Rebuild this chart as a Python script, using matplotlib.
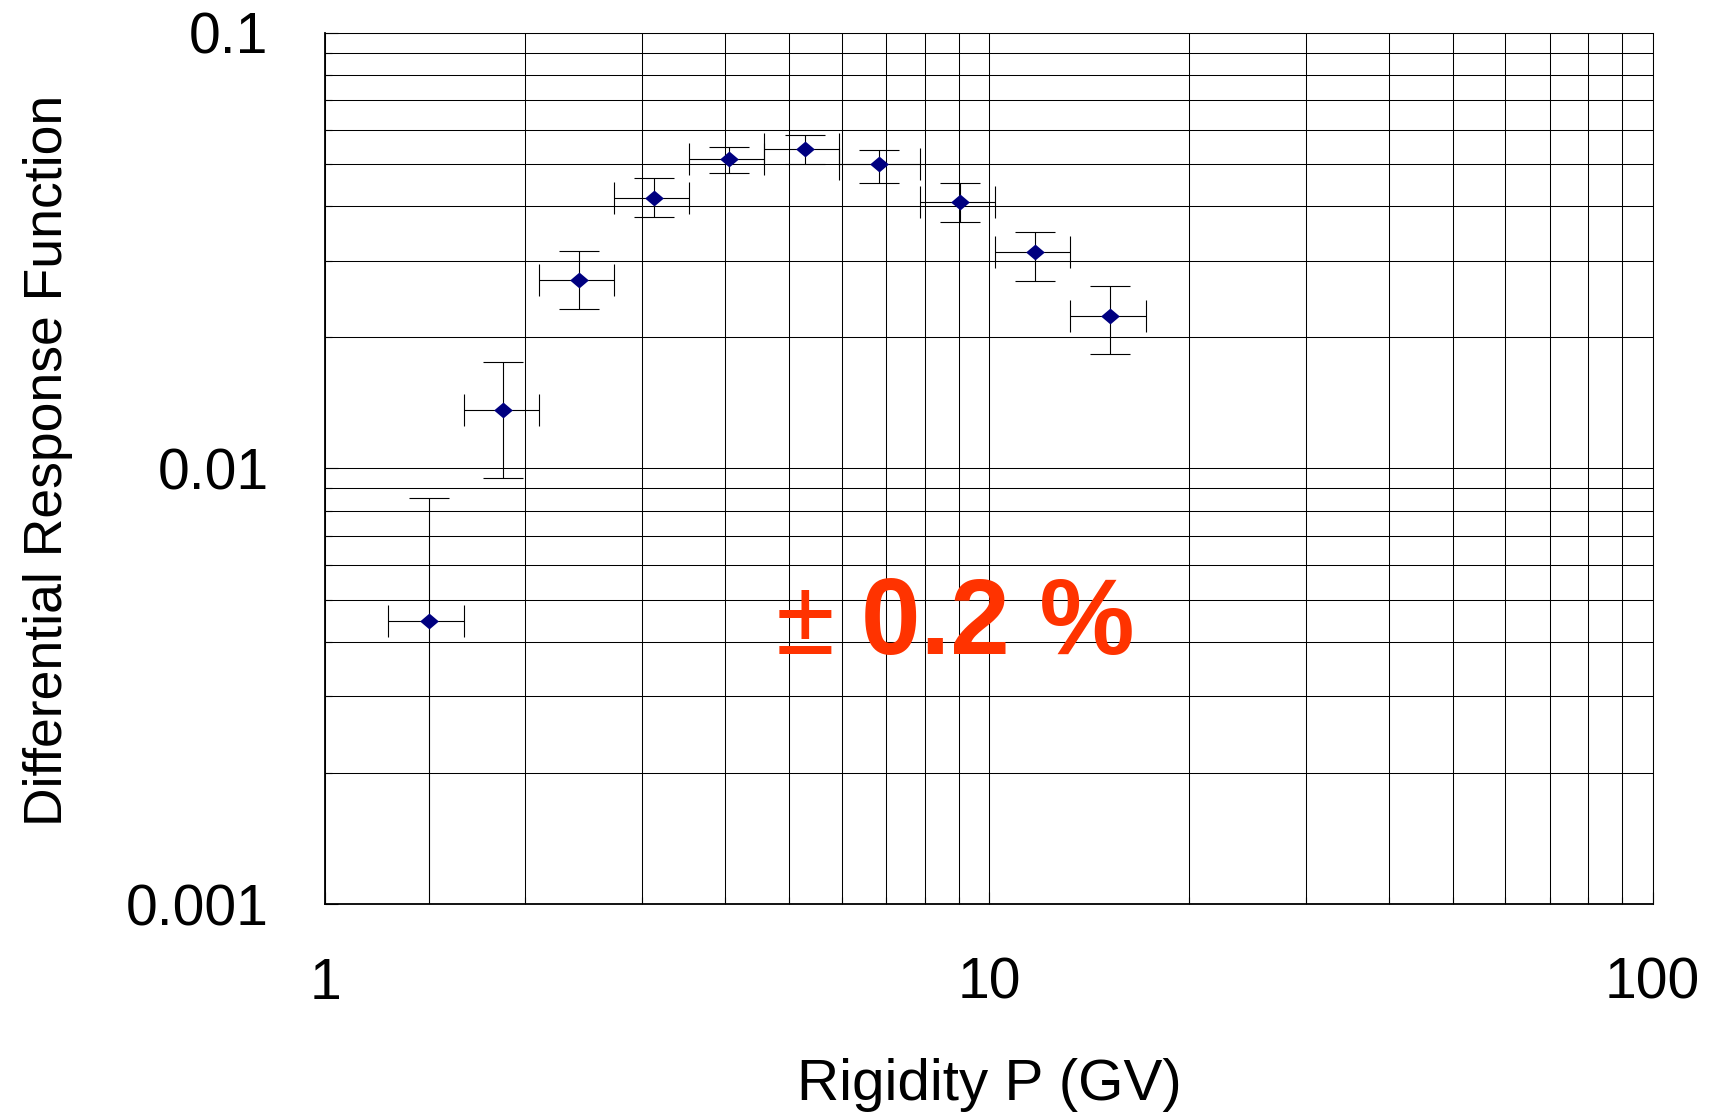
import matplotlib.pyplot as plt
from matplotlib.ticker import FixedLocator, NullFormatter, LogLocator

plt.rcParams['font.family'] = ['Liberation Sans', 'DejaVu Sans']

# rigidity bins (GV): centre and bin edges
rigidity = [1.431, 1.849, 2.414, 3.13, 4.056, 5.28, 6.82, 9.04, 11.72, 15.24]
rigidity_lo = [1.243, 1.618, 2.097, 2.718, 3.536, 4.58, 5.94, 7.88, 10.2, 13.24]
rigidity_hi = [1.618, 2.097, 2.718, 3.536, 4.58, 5.94, 7.88, 10.2, 13.24, 17.22]

# differential response function with lower/upper error limits
response = [0.00446, 0.01359, 0.02711, 0.04186, 0.05129, 0.05405, 0.05006, 0.04091, 0.0314, 0.0224]
response_lo = [0.0008, 0.00952, 0.02327, 0.03781, 0.04759, 0.05006, 0.04531, 0.03683, 0.0269, 0.0183]
response_hi = [0.00857, 0.01758, 0.03162, 0.04634, 0.05487, 0.05838, 0.05397, 0.04531, 0.0349, 0.0263]

x_ticks = [1, 10, 100]
x_tick_labels = ["1", "10", "100"]
y_ticks = [0.001, 0.01, 0.1]
y_tick_labels = ["0.001", "0.01", "0.1"]

fig = plt.figure(figsize=(17.24, 11.18), dpi=100)
ax = fig.add_axes([0.1888, 0.1914, 0.7698, 0.7791])

xerr = [[c - lo for c, lo in zip(rigidity, rigidity_lo)],
        [hi - c for c, hi in zip(rigidity, rigidity_hi)]]
yerr = [[c - lo for c, lo in zip(response, response_lo)],
        [hi - c for c, hi in zip(response, response_hi)]]

# vertical and horizontal bars have different cap lengths
ax.errorbar(rigidity, response, yerr=yerr, fmt="none", ecolor="black",
            elinewidth=0.8, capsize=14.4, capthick=0.8, zorder=3)
ax.errorbar(rigidity, response, xerr=xerr, fmt="none", ecolor="black",
            elinewidth=0.8, capsize=11.5, capthick=0.8, zorder=3)

# slightly flattened diamond marker
diamond = [(-1, 0), (0, 0.85), (1, 0), (0, -0.85), (-1, 0)]
ax.plot(rigidity, response, linestyle="none", marker=diamond,
        markersize=13.5, color="#000080", markeredgewidth=0, zorder=4)

ax.set_xscale("log")
ax.set_yscale("log")
ax.set_xlim(1, 100)
ax.set_ylim(0.001, 0.1)

ax.xaxis.set_major_locator(FixedLocator(x_ticks))
ax.set_xticklabels(x_tick_labels)
ax.yaxis.set_major_locator(FixedLocator(y_ticks))
ax.set_yticklabels(y_tick_labels)
ax.xaxis.set_minor_locator(LogLocator(base=10, subs=range(2, 10)))
ax.yaxis.set_minor_locator(LogLocator(base=10, subs=range(2, 10)))
ax.xaxis.set_minor_formatter(NullFormatter())
ax.yaxis.set_minor_formatter(NullFormatter())

ax.grid(True, which="both", color="black", linewidth=0.75)
ax.set_axisbelow(True)

ax.tick_params(which="both", direction="in", color="black", width=0.8)
ax.tick_params(which="major", length=9)
ax.tick_params(which="minor", length=5)
ax.tick_params(axis="x", labelsize=41, pad=38)
ax.tick_params(axis="y", labelsize=41, pad=41)

for side in ["left", "bottom"]:
    ax.spines[side].set_linewidth(1.3)
for side in ["top", "right"]:
    ax.spines[side].set_linewidth(0.75)

ax.set_xlabel("Rigidity P (GV)", fontsize=42, labelpad=34)
ax.set_ylabel("Differential Response Function", fontsize=38.5, labelpad=38)
ax.yaxis.label.set_y(0.509)

# systematic uncertainty note
ax.text(4.76, 0.00376, "±", fontsize=77, color="#ff3300", ha="left", va="baseline")
ax.text(6.41, 0.00376, "0.2 %", fontsize=77, fontweight="bold", color="#ff3300",
        ha="left", va="baseline")

fig.savefig("out.png", dpi=100)
